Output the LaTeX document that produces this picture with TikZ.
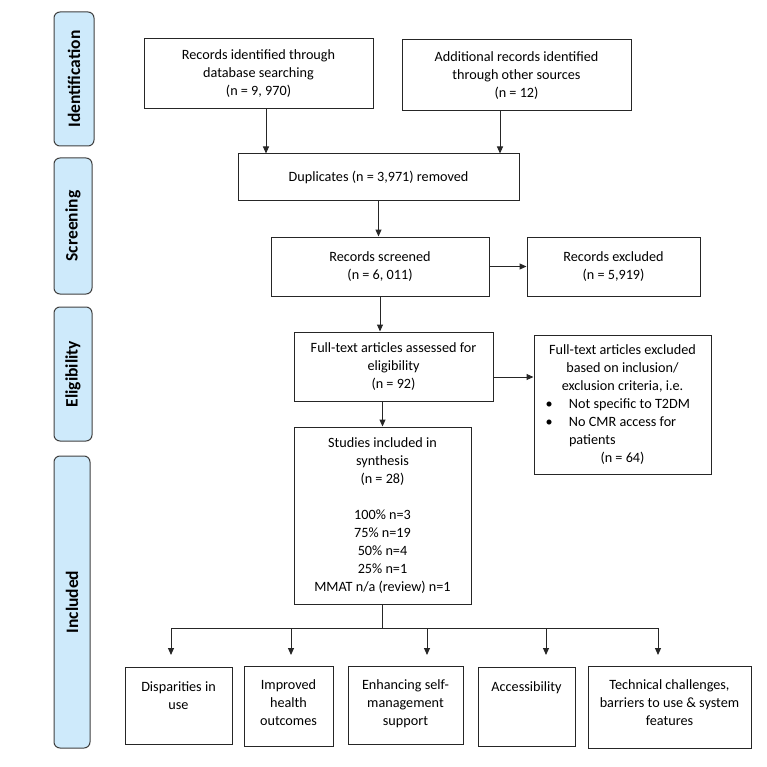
\documentclass[tikz,border=0pt]{standalone}
\usepackage{fontspec}
\setmainfont{Carlito}
\usetikzlibrary{arrows.meta}
\definecolor{stageblue}{RGB}{206,234,251}
\newcommand{\fsn}{\fontsize{14.2}{18}\selectfont}
\newcommand{\fsb}{\fontsize{17.5}{20}\selectfont}
\begin{document}
\begin{tikzpicture}[x=1pt,y=-1pt,
  box/.style={draw=black!85, line width=1pt, inner sep=0pt, align=center, font=\fsn},
  txt/.style={inner sep=0pt, align=center, font=\fsn, anchor=north},
  stage/.style={draw=black!75, fill=stageblue, rounded corners=6pt, line width=1pt, rotate=90, inner sep=0pt, font=\bfseries\fsb},
  arr/.style={draw=black!85, line width=1pt, -{Triangle[length=7pt,width=6pt]}},
  ln/.style={draw=black!85, line width=1pt}]
\useasboundingbox (0,0) rectangle (766,767);
% stage labels
\node[stage, minimum width=134, minimum height=40] (sid) at (74,79) {Identification};
\node[stage, minimum width=136, minimum height=38] (ssc) at (73,226) {Screening};
\node[stage, minimum width=134, minimum height=38] (sel) at (73,374) {Eligibility};
\node[stage, minimum width=292, minimum height=36] (sin) at (72,602) {Included};
% boxes
\node[box, minimum width=229, minimum height=70] (id1) at (258.5,74) {Records identified through\\database searching\\(n = 9, 970)};
\node[box, minimum width=229, minimum height=71] (id2) at (516.5,75.5) {Additional records identified\\through other sources\\(n = 12)};
\node[box, minimum width=281, minimum height=47] (dup) at (378.5,177.5) {\raisebox{3pt}{Duplicates (n = 3,971) removed}};
\node[box, minimum width=218, minimum height=59] (scr) at (380,266.5) {Records screened\\(n = 6, 011)};
\node[box, minimum width=173, minimum height=59] (exc) at (613.5,266.5) {Records excluded\\(n = 5,919)};
\node[box, minimum width=199, minimum height=69] (ft) at (393.5,366.5) {Full-text articles assessed for\\eligibility\\(n = 92)};
\node[box, minimum width=177, minimum height=139] (ftx) at (622.5,404.5) {\begin{minipage}{170pt}\fsn
{\centering Full-text articles excluded\\based on inclusion/\\exclusion criteria, i.e.\par}
{\raggedright\hspace*{8pt}\makebox[23.5pt][l]{\textbullet}Not specific to T2DM\\
\hspace*{8pt}\makebox[23.5pt][l]{\textbullet}No CMR access for\\
\hspace*{31.5pt}patients\par}
{\centering (n = 64)\par}
\end{minipage}};
\node[box, minimum width=177, minimum height=177] (inc) at (382.5,515.5) {Studies included in\\synthesis\\(n = 28)\\[18pt]100\% n=3\\75\% n=19\\50\% n=4\\25\% n=1\\MMAT n/a (review) n=1};
% bottom boxes
\node[box, minimum width=107, minimum height=77] (b1) at (178.5,705.5) {};
\node[box, minimum width=89, minimum height=80] (b2) at (288.5,706) {};
\node[box, minimum width=115, minimum height=78] (b3) at (405.5,705) {};
\node[box, minimum width=97, minimum height=79] (b4) at (526.5,706.5) {};
\node[box, minimum width=163, minimum height=82] (b5) at (669.5,707) {};
\node[txt] (b1t) at ([yshift=-15pt]b1.north) {Disparities in\\use};
\node[txt] (b2t) at ([yshift=-14pt]b2.north) {Improved\\health\\outcomes};
\node[txt] (b3t) at ([yshift=-14pt]b3.north) {Enhancing self-\\management\\support};
\node[txt] (b4t) at ([yshift=-15pt]b4.north) {Accessibility};
\node[txt] (b5t) at ([yshift=-14pt]b5.north) {Technical challenges,\\barriers to use \& system\\features};
% helper coordinates
\coordinate (a1) at (266,0);
\coordinate (a2) at (500,0);
\coordinate (r2) at (0,377);
\coordinate (bus) at (0,628);
\coordinate (t1) at (171,628); \coordinate (e1) at (171,655);
\coordinate (t2) at (291,628); \coordinate (e2) at (291,655);
\coordinate (t3) at (427,628); \coordinate (e3) at (427,655);
\coordinate (t4) at (546,628); \coordinate (e4) at (546,655);
\coordinate (t5) at (658,628); \coordinate (e5) at (658,655);
% connectors
\draw[arr] (id1.south -| a1) -- (dup.north -| a1);
\draw[arr] (id2.south -| a2) -- (dup.north -| a2);
\draw[arr] (dup.south) -- (dup.south |- scr.north);
\draw[arr] (scr.east) -- (exc.west);
\draw[arr] (scr.south) -- (scr.south |- ft.north);
\draw[arr] (ft.east |- r2) -- (ftx.west |- r2);
\draw[arr] (inc.north |- ft.south) -- (inc.north);
\draw[ln] (inc.south) -- (inc.south |- bus);
\draw[ln] (t1) -- (t5);
\draw[arr] (t1) -- (e1);
\draw[arr] (t2) -- (e2);
\draw[arr] (t3) -- (e3);
\draw[arr] (t4) -- (e4);
\draw[arr] (t5) -- (e5);
\end{tikzpicture}
\end{document}
